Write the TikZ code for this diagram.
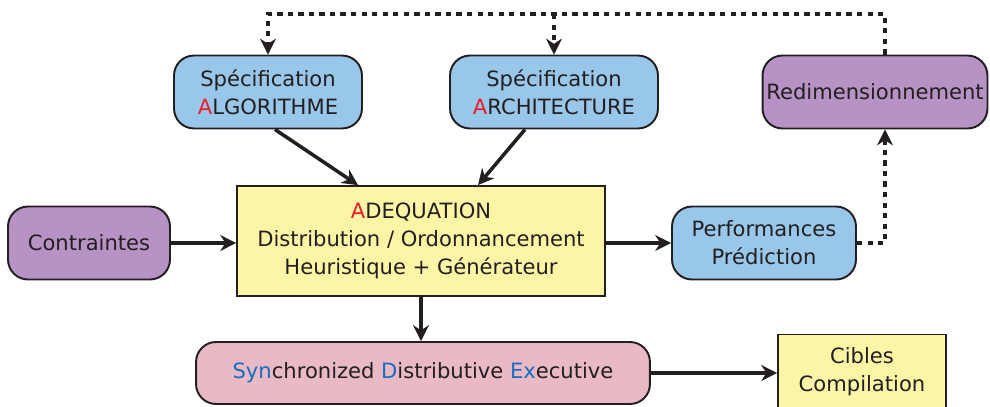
\documentclass[tikz,border=0pt]{standalone}
\usepackage{fontspec}
\setmainfont{DejaVu Sans}
\usepackage{tikz}
\usetikzlibrary{positioning, calc, arrows.meta}
\definecolor{boxblue}{RGB}{153,199,234}
\definecolor{boxpurple}{RGB}{183,146,196}
\definecolor{boxyellow}{RGB}{253,245,166}
\definecolor{boxpink}{RGB}{233,185,198}
\definecolor{lettred}{RGB}{237,28,36}
\definecolor{lettblue}{RGB}{20,110,190}
\definecolor{inkline}{RGB}{35,31,32}
\tikzset{
	boxtext/.style={font=\fontsize{12}{16}\selectfont, text=inkline}
}
\newcommand{\redA}{\textcolor{lettred}{A}}

\begin{document}
\begin{tikzpicture}[x=0.02cm, y=-0.02cm]

\tikzset{
    roundbox/.style={
        boxtext,
        draw=inkline,
        line width=1.1pt,
        rounded corners=0.4cm,
        minimum height=1.46cm,
        align=center,
        inner sep=2pt
    },
    squarebox/.style={
        boxtext,
        draw=inkline,
        line width=1pt,
        fill=boxyellow,
        align=center,
        inner sep=2pt
    },
    solidarrow/.style={
        draw=inkline,
        line width=2pt,
        -{Stealth[length=9pt,width=9pt]}
    },
    dotarrow/.style={
        draw=inkline,
        line width=2pt,
        dash pattern=on 3pt off 3pt,
        -{Stealth[length=9pt,width=9pt]}
    }
}

\useasboundingbox (0,0) rectangle (990,406);

\node[roundbox, fill=boxblue, minimum width=3.76cm] (algo) at (268,92) {Spécification\\\redA LGORITHME};
\node[roundbox, fill=boxblue, minimum width=4.16cm] (arch) at (554,92) {Spécification\\\redA RCHITECTURE};
\node[roundbox, fill=boxpurple, minimum width=4.5cm] (redim) at (875,92) {Redimensionnement};
\node[roundbox, fill=boxpurple, minimum width=3.24cm] (contr) at (89,243) {Contraintes};
\node[squarebox, minimum width=7.36cm, minimum height=2.2cm] (adeq) at (421,241) {\redA DEQUATION\\Distribution / Ordonnancement\\Heuristique + Générateur};
\node[roundbox, fill=boxblue, minimum width=3.68cm] (perf) at (764,243) {Performances\\Prédiction};
\node[roundbox, fill=boxpink, minimum width=9.08cm, minimum height=1.24cm] (sde) at (423,373) {\textcolor{lettblue}{Syn}chronized \textcolor{lettblue}{D}istributive \textcolor{lettblue}{Ex}ecutive};
\node[squarebox, minimum width=3.36cm, minimum height=1.5cm] (cibles) at (862,372) {Cibles\\Compilation};

\coordinate (loop) at (885,14);

\draw[solidarrow] ($(algo.south)+(7,0)$) -- ($(adeq.north)+(-63,0)$);
\draw[solidarrow] ($(arch.south)+(-29,0)$) -- ($(adeq.north)+(57,0)$);
\draw[solidarrow] (contr) -- (contr -| adeq.west);
\draw[solidarrow] (adeq.east |- perf) -- (perf);
\draw[solidarrow] (adeq) -- (adeq |- sde.north);
\draw[solidarrow] (sde) -- (sde -| cibles.west);
\draw[dotarrow] (perf.east) -| ($(redim.south)+(10,0)$);
\draw[dotarrow] ($(redim.north)+(10,0)$) -- (loop) -| (algo.north);
\draw[dotarrow] (loop -| arch.north) -- (arch.north);
\end{tikzpicture}
\end{document}
